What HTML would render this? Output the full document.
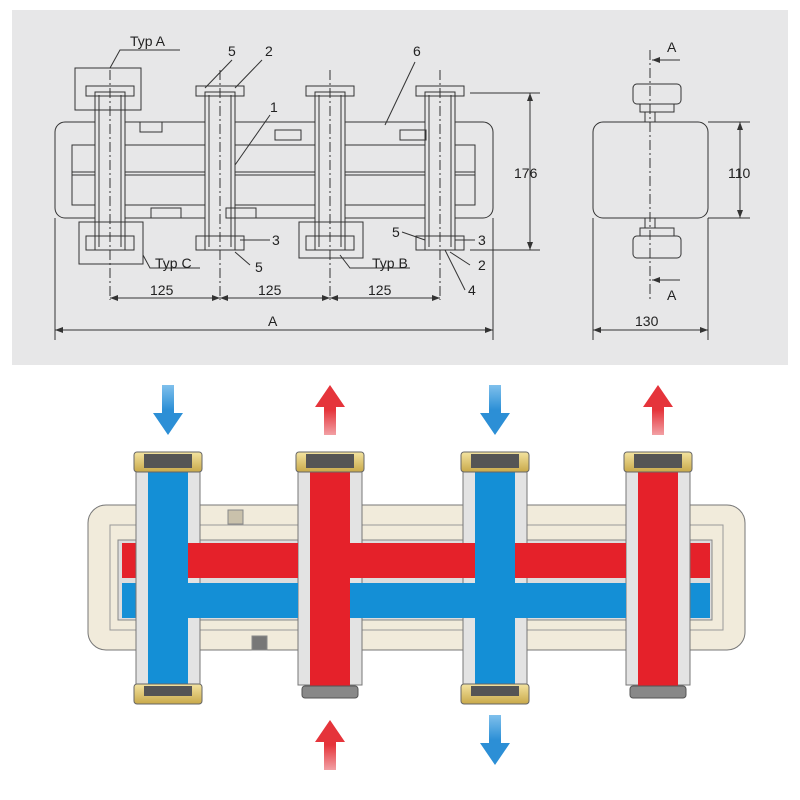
<!DOCTYPE html>
<html><head><meta charset="utf-8"><style>
html,body{margin:0;padding:0;background:#fff;}
svg{display:block;font-family:"Liberation Sans",sans-serif;}
</style></head><body>
<svg width="800" height="800" viewBox="0 0 800 800" xmlns="http://www.w3.org/2000/svg">
<defs>
<linearGradient id="brass" x1="0" y1="0" x2="0" y2="1"><stop offset="0" stop-color="#f3e3a0"/><stop offset="1" stop-color="#c9a94a"/></linearGradient>
<linearGradient id="bd" x1="0" y1="0" x2="0" y2="1"><stop offset="0" stop-color="#7fc0ec"/><stop offset="0.5" stop-color="#2c8fd6"/></linearGradient>
<linearGradient id="ru" x1="0" y1="1" x2="0" y2="0"><stop offset="0" stop-color="#f2a0a4"/><stop offset="0.5" stop-color="#e5343b"/></linearGradient>
<marker id="ar" markerWidth="8" markerHeight="6" refX="8" refY="3" orient="auto"><path d="M0,0 L8,3 L0,6z" fill="#333"/></marker>
<marker id="al" markerWidth="8" markerHeight="6" refX="0" refY="3" orient="auto"><path d="M8,0 L0,3 L8,6z" fill="#333"/></marker>
</defs>
<rect x="12" y="10" width="776" height="355" fill="#e7e7e8"/>
<g stroke="#333" fill="none" stroke-width="1">
 <rect x="55" y="122" width="438" height="96" rx="10"/>
 <rect x="72" y="145" width="403" height="60"/>
 <line x1="72" y1="172" x2="475" y2="172"/>
 <line x1="72" y1="175" x2="475" y2="175"/>
 <g id="tp">
  <rect x="95" y="92" width="30" height="158" fill="#e7e7e8"/>
  <line x1="99" y1="95" x2="99" y2="247"/><line x1="121" y1="95" x2="121" y2="247"/>
  <rect x="86" y="86" width="48" height="10"/>
  <rect x="86" y="236" width="48" height="14"/>
  <line x1="110" y1="70" x2="110" y2="300" stroke-dasharray="10,3,2,3"/>
 </g>
 <use href="#tp" x="110"/><use href="#tp" x="220"/><use href="#tp" x="330"/>
 <rect x="75" y="68" width="66" height="42"/>
 <rect x="79" y="222" width="64" height="42"/>
 <rect x="299" y="222" width="64" height="36"/>
 <rect x="151" y="208" width="30" height="10"/><rect x="226" y="208" width="30" height="10"/>
 <rect x="140" y="122" width="22" height="10"/><rect x="275" y="130" width="26" height="10"/>
 <rect x="400" y="130" width="26" height="10"/>
 <polyline points="110,68 120,50 180,50"/>
 <polyline points="143,255 150,268 200,268"/>
 <polyline points="340,255 350,268 410,268"/>
 <line x1="205" y1="88" x2="232" y2="60"/><line x1="235" y1="88" x2="262" y2="60"/>
 <line x1="235" y1="165" x2="270" y2="115"/>
 <line x1="385" y1="125" x2="415" y2="62"/>
 <line x1="240" y1="240" x2="270" y2="240"/><line x1="455" y1="240" x2="475" y2="240"/>
 <line x1="235" y1="252" x2="250" y2="265"/>
 <line x1="445" y1="250" x2="465" y2="290"/><line x1="450" y1="252" x2="470" y2="265"/>
 <line x1="402" y1="232" x2="425" y2="240"/>
 <line x1="110" y1="298" x2="220" y2="298" marker-start="url(#al)" marker-end="url(#ar)"/>
 <line x1="220" y1="298" x2="330" y2="298" marker-start="url(#al)" marker-end="url(#ar)"/>
 <line x1="330" y1="298" x2="440" y2="298" marker-start="url(#al)" marker-end="url(#ar)"/>
 <line x1="55" y1="218" x2="55" y2="340"/><line x1="493" y1="218" x2="493" y2="340"/>
 <line x1="55" y1="330" x2="493" y2="330" marker-start="url(#al)" marker-end="url(#ar)"/>
 <line x1="470" y1="93" x2="540" y2="93"/><line x1="470" y1="250" x2="540" y2="250"/>
 <line x1="530" y1="93" x2="530" y2="250" marker-start="url(#al)" marker-end="url(#ar)"/>
 <rect x="593" y="122" width="115" height="96" rx="10"/>
 <line x1="650" y1="50" x2="650" y2="300" stroke-dasharray="10,3,2,3"/>
 <rect x="633" y="84" width="48" height="20" rx="4"/>
 <rect x="640" y="104" width="34" height="8"/><line x1="645" y1="112" x2="645" y2="122"/><line x1="655" y1="112" x2="655" y2="122"/>
 <rect x="633" y="236" width="48" height="22" rx="4"/>
 <rect x="640" y="228" width="34" height="8"/><line x1="645" y1="218" x2="645" y2="228"/><line x1="655" y1="218" x2="655" y2="228"/>
 <line x1="708" y1="122" x2="750" y2="122"/><line x1="708" y1="218" x2="750" y2="218"/>
 <line x1="740" y1="122" x2="740" y2="218" marker-start="url(#al)" marker-end="url(#ar)"/>
 <line x1="593" y1="218" x2="593" y2="340"/><line x1="708" y1="218" x2="708" y2="340"/>
 <line x1="593" y1="330" x2="708" y2="330" marker-start="url(#al)" marker-end="url(#ar)"/>
 <line x1="680" y1="60" x2="652" y2="60" marker-end="url(#ar)"/>
 <line x1="680" y1="280" x2="652" y2="280" marker-end="url(#ar)"/>
</g>
<g font-size="14" fill="#222">
 <text x="130" y="46">Typ A</text><text x="155" y="268">Typ C</text><text x="372" y="268">Typ B</text>
 <text x="228" y="56">5</text><text x="265" y="56">2</text><text x="270" y="112">1</text><text x="413" y="56">6</text>
 <text x="272" y="245">3</text><text x="255" y="272">5</text><text x="392" y="237">5</text>
 <text x="478" y="245">3</text><text x="478" y="270">2</text><text x="468" y="295">4</text>
 <text x="150" y="295">125</text><text x="258" y="295">125</text><text x="368" y="295">125</text>
 <text x="268" y="326">A</text><text x="514" y="178">176</text><text x="728" y="178">110</text>
 <text x="635" y="326">130</text><text x="667" y="52">A</text><text x="667" y="300">A</text>
</g>
<rect x="88" y="505" width="657" height="145" rx="18" fill="#f1ebdb" stroke="#777"/>
<rect x="110" y="525" width="613" height="105" fill="none" stroke="#999"/>
<rect x="118" y="540" width="594" height="80" fill="#ddd" stroke="#888"/>
<rect x="122" y="543" width="588" height="35" fill="#e5212a"/>
<rect x="122" y="583" width="588" height="35" fill="#148fd6"/>
<g stroke="#888" fill="#f1ebdb"><rect x="228" y="510" width="15" height="14" fill="#c9c1ab"/><rect x="252" y="636" width="15" height="14" fill="#777"/></g>
<g id="bp">
 <rect x="136" y="470" width="64" height="215" fill="#e3e3e3" stroke="#777"/>
 <rect x="148" y="470" width="40" height="225" fill="#148fd6"/>
 <rect x="134" y="452" width="68" height="20" rx="3" fill="url(#brass)" stroke="#666"/>
 <rect x="144" y="454" width="48" height="14" fill="#555"/>
 <rect x="134" y="684" width="68" height="20" rx="3" fill="url(#brass)" stroke="#666"/>
 <rect x="144" y="686" width="48" height="10" fill="#555"/>
</g>
<use href="#bp" x="327"/>
<g id="rp">
 <rect x="298" y="470" width="64" height="215" fill="#e3e3e3" stroke="#777"/>
 <rect x="310" y="470" width="40" height="225" fill="#e5212a"/>
 <rect x="296" y="452" width="68" height="20" rx="3" fill="url(#brass)" stroke="#666"/>
 <rect x="306" y="454" width="48" height="14" fill="#555"/>
 <rect x="302" y="686" width="56" height="12" rx="3" fill="#888" stroke="#555"/>
</g>
<use href="#rp" x="328"/>
<rect x="188" y="543" width="110" height="35" fill="#e5212a"/>
<rect x="350" y="583" width="127" height="35" fill="#148fd6"/>
<rect x="350" y="543" width="127" height="35" fill="#e5212a"/>
<rect x="188" y="583" width="110" height="35" fill="#148fd6"/>
<rect x="515" y="543" width="111" height="35" fill="#e5212a"/>
<rect x="515" y="583" width="111" height="35" fill="#148fd6"/>
<rect x="148" y="540" width="40" height="80" fill="#148fd6"/>
<rect x="475" y="540" width="40" height="80" fill="#148fd6"/>
<rect x="310" y="540" width="40" height="80" fill="#e5212a"/>
<rect x="638" y="540" width="40" height="80" fill="#e5212a"/>
<g>
 <path d="M162,385 h12 v28 h9 l-15,22 l-15,-22 h9z" fill="url(#bd)"/>
 <path d="M489,385 h12 v28 h9 l-15,22 l-15,-22 h9z" fill="url(#bd)"/>
 <path d="M489,715 h12 v28 h9 l-15,22 l-15,-22 h9z" fill="url(#bd)"/>
 <path d="M324,435 h12 v-28 h9 l-15,-22 l-15,22 h9z" fill="url(#ru)"/>
 <path d="M652,435 h12 v-28 h9 l-15,-22 l-15,22 h9z" fill="url(#ru)"/>
 <path d="M324,770 h12 v-28 h9 l-15,-22 l-15,22 h9z" fill="url(#ru)"/>
</g>
</svg>
</body></html>
